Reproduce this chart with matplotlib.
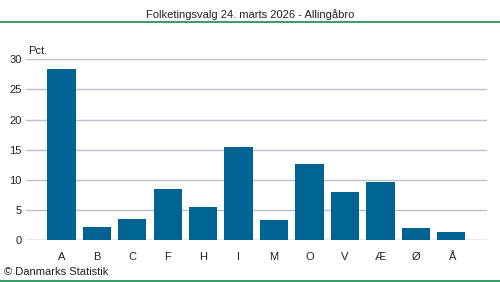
import matplotlib.pyplot as plt
from matplotlib.lines import Line2D

parties = ["A", "B", "C", "F", "H", "I", "M", "O", "V", "Æ", "Ø", "Å"]
pct = [28.4, 2.2, 3.5, 8.5, 5.5, 15.5, 3.3, 12.6, 8.0, 9.6, 2.0, 1.3]
yticks = [0, 5, 10, 15, 20, 25, 30]

plt.rcParams['font.family'] = ['Liberation Sans', 'DejaVu Sans']

W, H = 500, 282
fig = plt.figure(figsize=(5, 2.82), dpi=100)

# plot area in pixels
x0, x1 = 26, 486.7
y_top, y_bot = 59.3, 240
ax = fig.add_axes([x0 / W, 1 - y_bot / H, (x1 - x0) / W, (y_bot - y_top) / H])

ax.bar(range(len(parties)), pct, width=0.8, color='#006391', zorder=3)
ax.set_xlim(-1, len(parties))
ax.set_ylim(0, 30)
ax.set_yticks(yticks)
ax.set_xticks(range(len(parties)))
ax.set_xticklabels(parties)
ax.grid(axis='y', color='#bfbfc7', linewidth=1, zorder=0)
for s in ax.spines.values():
    s.set_visible(False)
ax.tick_params(axis='both', length=0, labelsize=8, colors='#222222')
ax.tick_params(axis='y', pad=3)
ax.tick_params(axis='x', pad=9)
ax.axhline(0, color='#bfbfc7', linewidth=1, zorder=2)

fig.text(28 / W, 1 - 51 / H, "Pct.", fontsize=8, color='#222222', va='center', ha='left')
fig.text(250 / W, 1 - 15 / H, "Folketingsvalg 24. marts 2026 - Allingåbro",
         fontsize=8, color='#222222', ha='center', va='center')
fig.text(4 / W, 1 - 272 / H, "© Danmarks Statistik", fontsize=8, color='#222222',
         ha='left', va='center')

fig.add_artist(Line2D([0, 1], [1 - 22 / H, 1 - 22 / H], color='#168a48', linewidth=1.2,
                      transform=fig.transFigure))
fig.add_artist(Line2D([0, 1], [1 - 281 / H, 1 - 281 / H], color='#168a48', linewidth=1.2,
                      transform=fig.transFigure))

fig.savefig("out.png", dpi=100)
